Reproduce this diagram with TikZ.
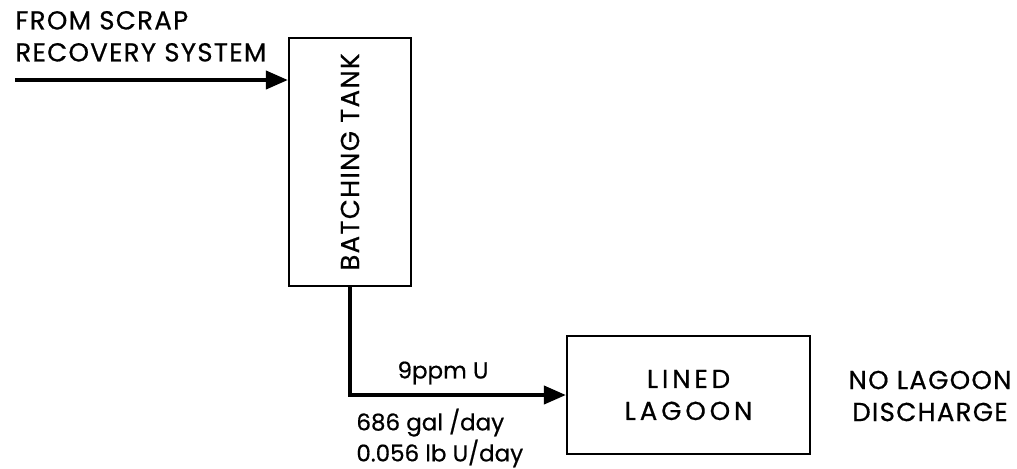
\documentclass[tikz,border=0pt]{standalone}
\usepackage{fontspec}
\setmainfont{Poppins}[FakeBold=0.6]
\newfontfamily\capsfont{Poppins}[LetterSpace=5,FakeBold=0.6]
\newfontfamily\widecapsfont{Poppins}[LetterSpace=15,FakeBold=0.6]
\usetikzlibrary{arrows.meta,positioning}
\tikzset{
  unit/.style={draw,line width=1.1pt,align=center,inner sep=0pt},
  flow/.style={-{Triangle[length=11pt,width=9pt]},line width=2pt},
  note/.style={align=left,inner sep=0pt,font=\fontsize{11.5}{15.5}\selectfont},
  caps/.style={inner sep=0pt,font=\capsfont\fontsize{13}{16}\selectfont}
}
\begin{document}
\begin{tikzpicture}[x=0.5pt,y=-0.5pt,font=\fontsize{11.5}{16}\selectfont]
  \useasboundingbox (0,0) rectangle (1017,468);
  \node[unit,caps,minimum width=61pt,minimum height=124pt] (tank) at (350,162)
    {\rotatebox{90}{BATCHING TANK}};
  \node[unit,caps,font=\widecapsfont\fontsize{13}{16}\selectfont,
    minimum width=121.5pt,minimum height=59pt] (lagoon) at (688.5,395)
    {LINED\\LAGOON};
  \coordinate (src) at (15,80);

  \node[caps,align=left,anchor=south west] (fromlbl) at (15,62) {FROM SCRAP\\RECOVERY SYSTEM};
  \node[caps,align=center] (nodisch) at (930,396) {NO LAGOON\\DISCHARGE};

  \draw[flow] (src) -- (src -| tank.west);
  \draw[flow] (tank.south) -- (tank.south |- lagoon.west) -- (lagoon.west);

  \node[inner sep=0pt] (conc) at (443,373) {9ppm U};
  \node[note,anchor=west] (rate) at (356,438) {686 gal /day\\0.056 lb U/day};
\end{tikzpicture}
\end{document}
